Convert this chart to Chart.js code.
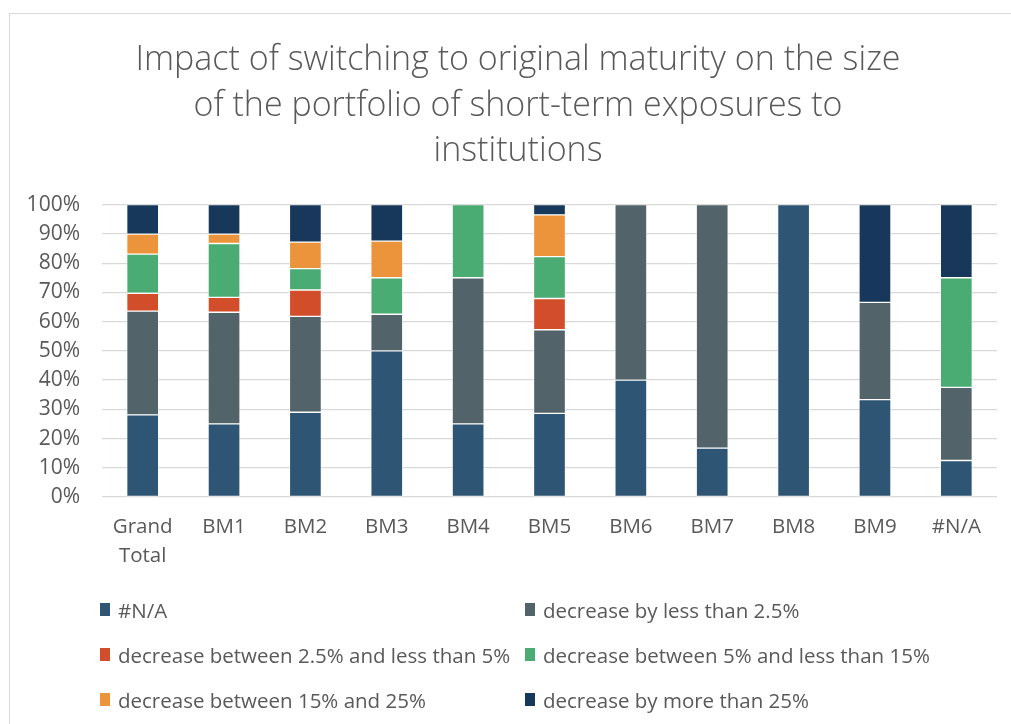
<!DOCTYPE html>
<html>
<head>
<meta charset="utf-8">
<script src="https://cdn.jsdelivr.net/npm/chart.js@4"></script>
<style>
    html, body { margin: 0; padding: 0; background: #fff; overflow: hidden; }
    body { width: 1011px; height: 724px; position: relative; }
    #frame {
        position: absolute; left: 9px; top: 13px; width: 1016px; height: 720px;
        border-left: 1px solid #d9d9d9; border-top: 1px solid #d9d9d9;
    }
    #chartBox { position: absolute; left: 0; top: 0; width: 1016px; height: 580px; }
    #legend {
        position: absolute; left: 90px; top: 573px; width: 900px;
        display: grid; grid-template-columns: 425px 470px; row-gap: 0;
        font-family: "Open Sans", sans-serif; font-size: 20.5px; color: #595959;
    }
    #legend .item { height: 45px; display: flex; align-items: center; white-space: nowrap; }
    #legend .box { width: 10px; height: 13px; margin-right: 8px; flex: none; }
</style>
</head>
<body>
<div id="frame">
    <div id="chartBox"><canvas id="impactChart"></canvas></div>
    <div id="legend"></div>
</div>
<script>
    // categories and series (share of portfolio, %)
    const categories = [['Grand', 'Total'], 'BM1', 'BM2', 'BM3', 'BM4', 'BM5', 'BM6', 'BM7', 'BM8', 'BM9', '#N/A'];
    const seriesNames = [
        '#N/A',
        'decrease by less than 2.5%',
        'decrease between 2.5% and less than 5%',
        'decrease between 5% and less than 15%',
        'decrease between 15% and 25%',
        'decrease by more than 25%'
    ];
    const naValues        = [28.1, 25.0, 29.0, 50.0, 25.0, 28.6, 40.0, 16.7, 100, 33.3, 12.5];
    const lessThan2_5     = [35.5, 38.2, 32.8, 12.5, 50.0, 28.6, 60.0, 83.3, 0, 33.3, 25.0];
    const from2_5to5      = [6.1, 5.1, 9.0, 0, 0, 10.7, 0, 0, 0, 0, 0];
    const from5to15       = [13.4, 18.4, 7.3, 12.5, 25.0, 14.3, 0, 0, 0, 0, 37.5];
    const from15to25      = [6.8, 3.2, 9.1, 12.5, 0, 14.3, 0, 0, 0, 0, 0];
    const moreThan25      = [10.1, 10.1, 12.8, 12.5, 0, 3.5, 0, 0, 0, 33.4, 25.0];
    const yTicks          = [0, 10, 20, 30, 40, 50, 60, 70, 80, 90, 100];

    const seriesData = [naValues, lessThan2_5, from2_5to5, from5to15, from15to25, moreThan25];
    const colors = ['#2e5574', '#526469', '#d24e2a', '#4aab73', '#ec943c', '#17385a'];

    const font = "'Open Sans', sans-serif";

    var ctx = document.getElementById('impactChart').getContext('2d');
    var impactChart = new Chart(ctx, {
        type: 'bar',
        data: {
            labels: categories,
            datasets: seriesData.map((d, i) => ({
                label: seriesNames[i],
                data: d,
                backgroundColor: colors[i],
                borderColor: 'rgba(255,255,255,0.45)',
                borderWidth: 1,
                borderSkipped: false,
                barThickness: 32
            }))
        },
        options: {
            responsive: true,
            maintainAspectRatio: false,
            animation: false,
            layout: { padding: { left: 10, right: 10, top: 0, bottom: 7 } },
            plugins: {
                legend: { display: false },
                tooltip: { enabled: false },
                title: {
                    display: true,
                    text: ['Impact of switching to original maturity on the size',
                           'of the portfolio of short-term exposures to',
                           'institutions'],
                    color: '#595959',
                    font: { family: font, size: 34, weight: '300', lineHeight: 1.33 },
                    padding: { top: 24, bottom: 31 }
                }
            },
            scales: {
                x: {
                    stacked: true,
                    grid: { display: false, drawTicks: false },
                    border: { display: false },
                    ticks: { color: '#595959', font: { family: font, size: 20.5, lineHeight: 1.4 }, padding: 16, maxRotation: 0, autoSkip: false },
                    afterFit: s => { s.height = 90; }
                },
                y: {
                    stacked: true,
                    min: 0,
                    max: 100,
                    afterBuildTicks: s => { s.ticks = yTicks.map(v => ({ value: v })); },
                    grid: { color: '#d9d9d9', lineWidth: 1.2, drawTicks: false },
                    border: { display: false },
                    ticks: { color: '#595959', font: { family: font, size: 21 }, padding: 22, callback: v => v + '%' },
                    afterFit: s => { s.width = 82; }
                },
                // empty right axis, only keeps the right margin so the title sits centred
                yRight: {
                    position: 'right',
                    grid: { display: false, drawTicks: false },
                    border: { display: false },
                    ticks: { display: false },
                    afterFit: s => { s.width = 19; }
                }
            }
        }
    });

    // legend in two columns, like the original
    const legendEl = document.getElementById('legend');
    impactChart.data.datasets.forEach(ds => {
        let item = document.createElement('div');
        item.className = 'item';
        let box = document.createElement('span');
        box.className = 'box';
        box.style.background = ds.backgroundColor;
        let txt = document.createElement('span');
        txt.textContent = ds.label;
        item.appendChild(box);
        item.appendChild(txt);
        legendEl.appendChild(item);
    });
</script>
</body>
</html>
